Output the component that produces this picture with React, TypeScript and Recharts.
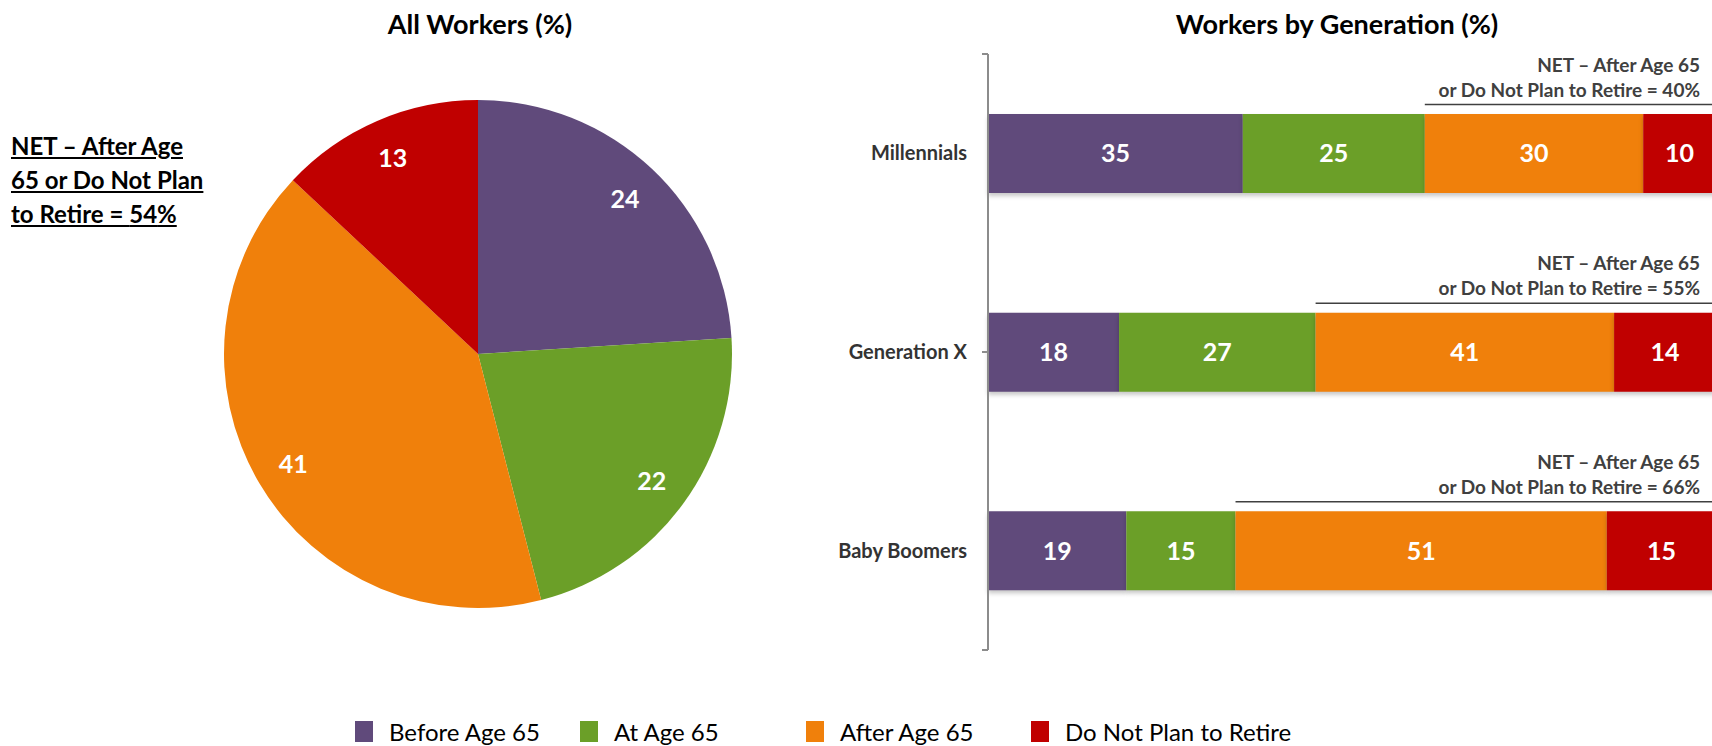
import { PieChart, Pie, Cell, BarChart, Bar, XAxis, YAxis, LabelList, Legend } from 'recharts'

const categories = ['Millennials', 'Generation X', 'Baby Boomers']
const beforeAge65 = [35, 18, 19]
const atAge65 = [25, 27, 15]
const afterAge65 = [30, 41, 51]
const doNotPlan = [10, 14, 15]
const netByGeneration = [40, 55, 66]

const seriesNames = ['Before Age 65', 'At Age 65', 'After Age 65', 'Do Not Plan to Retire']
const allWorkers = [24, 22, 41, 13]
const allWorkersNet = 54

const COLORS = ['#604a7b', '#6b9f28', '#f0800b', '#c00000']
const FONT = 'Lato, "Open Sans", sans-serif'
const RADIAN = Math.PI / 180

const pieData = seriesNames.map((name, i) => ({ name, value: allWorkers[i] }))
const barData = categories.map((name, i) => ({
  name,
  before: beforeAge65[i],
  at: atAge65[i],
  after: afterAge65[i],
  notPlan: doNotPlan[i],
  net: netByGeneration[i],
}))
const barKeys = ['before', 'at', 'after', 'notPlan']

const renderPieLabel = (props: any) => {
  const { cx, cy, midAngle, outerRadius, value } = props
  const r = outerRadius * 0.845
  const x = cx + r * Math.cos(-midAngle * RADIAN)
  const y = cy + r * Math.sin(-midAngle * RADIAN)
  return (
    <text x={x} y={y} fill="#fff" textAnchor="middle" dominantBaseline="central"
      fontSize={25} fontWeight={700} fontFamily={FONT}>
      {value}
    </text>
  )
}

const renderNet = (props: any) => {
  const vb = props.viewBox || props
  const x = vb.x ?? props.x
  const y = vb.y ?? props.y
  const right = 940
  return (
    <g>
      <text x={right} y={y - 50} textAnchor="end" dominantBaseline="central"
        fontSize={19} fontWeight={700} fill="#404040" fontFamily={FONT}>
        NET – After Age 65
      </text>
      <text x={right} y={y - 25} textAnchor="end" dominantBaseline="central"
        fontSize={19} fontWeight={700} fill="#404040" fontFamily={FONT}>
        {`or Do Not Plan to Retire = ${props.value}%`}
      </text>
      <line x1={x} x2={1000} y1={y - 9.5} y2={y - 9.5} stroke="#404040" strokeWidth={1.5} />
    </g>
  )
}

const legendX = [355, 580, 806, 1031]

const renderLegend = () => (
  <div style={{ position: 'relative', width: 1712, height: 32 }}>
    {seriesNames.map((name, i) => (
      <div key={name} style={{ position: 'absolute', left: legendX[i], top: 0, height: 32, display: 'flex', alignItems: 'center' }}>
        <span style={{ display: 'inline-block', width: 18, height: 21, background: COLORS[i], marginRight: 16 }} />
        <span style={{ fontSize: 24, color: '#000', fontFamily: FONT, whiteSpace: 'nowrap' }}>{name}</span>
      </div>
    ))}
  </div>
)

export default function App() {
  return (
    <div style={{ position: 'absolute', left: 0, top: 0, width: 1712, height: 746, overflow: 'hidden', background: '#fff', fontFamily: FONT }}>
      <style>{'.gen-bars .recharts-bar-rectangle path { filter: drop-shadow(0px 3px 2px rgba(0,0,0,0.22)); }'}</style>
      <div style={{ position: 'absolute', left: 0, top: 0 }}>
        <PieChart width={960} height={746}>
          <Pie data={pieData} dataKey="value" nameKey="name" cx={473} cy={349} outerRadius={254}
            startAngle={90} endAngle={-270} stroke="none" label={renderPieLabel} labelLine={false}
            isAnimationActive={false}>
            {pieData.map((_, i) => (
              <Cell key={`cell-${i}`} fill={COLORS[i]} />
            ))}
          </Pie>
          <Legend content={renderLegend} wrapperStyle={{ left: 0, top: 715, width: 1712 }} />
        </PieChart>
      </div>

      <div className="gen-bars" style={{ position: 'absolute', left: 760, top: 0 }}>
        <BarChart layout="vertical" width={960} height={746} data={barData}
          margin={{ top: 54, right: 4, bottom: 96, left: 0 }}>
          <XAxis type="number" domain={[0, 100]} hide />
          <YAxis yAxisId="aFrame" type="number" domain={[0, 3]} ticks={[0, 1, 2, 3]} width={1}
            tick={() => <g />} tickSize={6} axisLine={{ stroke: '#8c8c8c', strokeWidth: 2 }}
            tickLine={{ stroke: '#8c8c8c', strokeWidth: 2 }} />
          <YAxis yAxisId="zCat" type="category" dataKey="name" width={227} axisLine={false}
            tickLine={false} tickSize={0} tickMargin={20}
            tick={{ fontSize: 20, fontWeight: 700, fill: '#333', fontFamily: FONT }} />
          {barKeys.map((k, i) => (
            <Bar key={k} dataKey={k} stackId="a" yAxisId="zCat" fill={COLORS[i]} barSize={79}
              isAnimationActive={false}>
              <LabelList dataKey={k} position="center" fill="#fff" fontSize={25} fontWeight={700}
                fontFamily={FONT} />
              {k === 'after' && <LabelList dataKey="net" content={renderNet} />}
            </Bar>
          ))}
        </BarChart>
      </div>

      <div style={{ position: 'absolute', left: 280, width: 400, top: 7, textAlign: 'center', fontSize: 27, fontWeight: 700 }}>
        All Workers (%)
      </div>
      <div style={{ position: 'absolute', left: 1137, width: 400, top: 7, textAlign: 'center', fontSize: 27, fontWeight: 700 }}>
        Workers by Generation (%)
      </div>
      <div style={{ position: 'absolute', left: 11, top: 129, fontSize: 24, fontWeight: 700, lineHeight: '34px', textDecoration: 'underline' }}>
        NET – After Age<br />65 or Do Not Plan<br />to Retire = {allWorkersNet}%
      </div>
    </div>
  )
}
